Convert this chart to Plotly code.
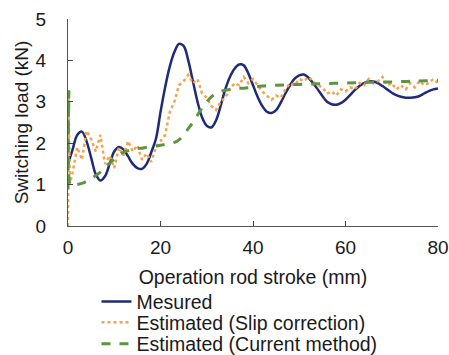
import plotly.graph_objects as go

# Measured (1 mm steps 0..80)
meas_x = list(range(0, 81))
meas_y = [1.5, 1.85, 2.2, 2.28, 2.05, 1.65, 1.25, 1.1, 1.2, 1.5,
          1.8, 1.91, 1.85, 1.68, 1.5, 1.4, 1.38, 1.5, 1.78, 2.1,
          2.75, 3.35, 3.85, 4.2, 4.4, 4.35, 4.0, 3.5, 3.0, 2.62,
          2.42, 2.38, 2.55, 2.9, 3.3, 3.6, 3.8, 3.9, 3.88, 3.68,
          3.4, 3.12, 2.9, 2.76, 2.73, 2.8, 2.98, 3.2, 3.4, 3.56,
          3.64, 3.66, 3.58, 3.45, 3.3, 3.14, 3.0, 2.94, 2.93, 2.97,
          3.05, 3.16, 3.28, 3.38, 3.45, 3.49, 3.49, 3.45, 3.38, 3.3,
          3.22, 3.16, 3.12, 3.1, 3.1, 3.11, 3.14, 3.2, 3.26, 3.3, 3.32]

# Estimated (Slip correction)
slip_x = [0, 0.1, 0.4] + list(range(1, 81))
slip_y = [0.0, 3.2, 1.0,
          1.3, 1.9, 1.6, 2.3, 2.1, 1.8, 2.2, 1.5, 1.7, 1.4,
          1.9, 1.7, 2.05, 1.8, 1.95, 1.6, 1.75, 1.55, 1.9, 2.05,
          2.2, 2.75, 3.0, 3.4, 3.5, 3.65, 3.45, 3.55, 3.2, 3.1,
          2.9, 2.8, 3.0, 3.1, 3.3, 3.45, 3.4, 3.6, 3.45, 3.55,
          3.4, 3.25, 3.15, 3.05, 3.15, 3.1, 3.3, 3.45, 3.4, 3.55,
          3.5, 3.6, 3.5, 3.4, 3.35, 3.2, 3.25, 3.15, 3.3, 3.25,
          3.35, 3.3, 3.45, 3.4, 3.55, 3.45, 3.5, 3.6, 3.4, 3.45,
          3.3, 3.4, 3.3, 3.45, 3.35, 3.5, 3.4, 3.45, 3.55, 3.45]

# Estimated (Current method)
cur_x = [0, 0.2, 0.5, 1, 2, 3, 4, 5, 6, 7, 8, 9, 10, 11, 12, 13, 14, 15, 16, 17,
         18, 19, 20, 21, 22, 23, 24, 25, 26, 27, 28, 29, 30, 31, 32, 33, 34, 35,
         36, 38, 40, 42, 45, 50, 55, 60, 65, 70, 75, 80]
cur_y = [0.9, 3.25, 1.0, 0.98, 1.0, 1.03, 1.08, 1.15, 1.22, 1.3, 1.42, 1.52, 1.62,
         1.72, 1.78, 1.82, 1.85, 1.87, 1.88, 1.9, 1.91, 1.93, 1.95, 1.97, 1.99,
         2.02, 2.08, 2.2, 2.35, 2.5, 2.68, 2.85, 3.0, 3.12, 3.2, 3.25, 3.28, 3.3,
         3.32, 3.33, 3.35, 3.38, 3.4, 3.42, 3.44, 3.45, 3.47, 3.48, 3.5, 3.52]

x_ticks = [0, 20, 40, 60, 80]
y_ticks = [0, 1, 2, 3, 4, 5]

FONT = "Liberation Sans, Arial, sans-serif"
TXT = "#1a1a1a"

fig = go.Figure()
fig.add_trace(go.Scatter(x=meas_x, y=meas_y, mode="lines", name="Mesured", legend="legend",
                         line=dict(color="#1f2a78", width=2.5, shape="spline")))
fig.add_trace(go.Scatter(x=slip_x, y=slip_y, mode="lines", name="Estimated (Slip correction)",
                         legend="legend2",
                         line=dict(color="#f4a24e", width=2.5, dash="dot")))
fig.add_trace(go.Scatter(x=cur_x, y=cur_y, mode="lines", name="Estimated (Current method)",
                         legend="legend3",
                         line=dict(color="#5e9440", width=3, dash="dash", shape="spline")))

leg_common = dict(x=0.077, xanchor="left", yanchor="middle", bgcolor="rgba(0,0,0,0)",
                  font=dict(size=19.5, family=FONT, color=TXT), borderwidth=0)

fig.update_layout(
    width=449, height=355,
    margin=dict(l=68, r=11, t=19, b=129, autoexpand=False),
    paper_bgcolor="white", plot_bgcolor="white",
    font=dict(family=FONT, size=19, color=TXT),
    showlegend=True,
    legend=dict(y=-0.366, **leg_common),
    legend2=dict(y=-0.467, **leg_common),
    legend3=dict(y=-0.570, **leg_common),
    xaxis=dict(range=[0, 80], tickvals=x_ticks, ticks="inside", ticklen=5,
               showline=True, linecolor="#555", linewidth=1.2, showgrid=False,
               zeroline=False, tickfont=dict(size=19), automargin=False,
               ticklabelstandoff=4,
               title=dict(text="Operation rod stroke (mm)", font=dict(size=19.5), standoff=13)),
    yaxis=dict(range=[0, 5], tickvals=y_ticks, ticks="inside", ticklen=5,
               showline=True, linecolor="#555", linewidth=1.2, showgrid=False,
               zeroline=False, tickfont=dict(size=19), automargin=False,
               ticklabelstandoff=17,
               title=dict(text="Switching load (kN)", font=dict(size=19), standoff=1)),
)

fig.write_html("out.html", config={"displayModeBar": False},
               post_script="document.body.style.margin='0';")
